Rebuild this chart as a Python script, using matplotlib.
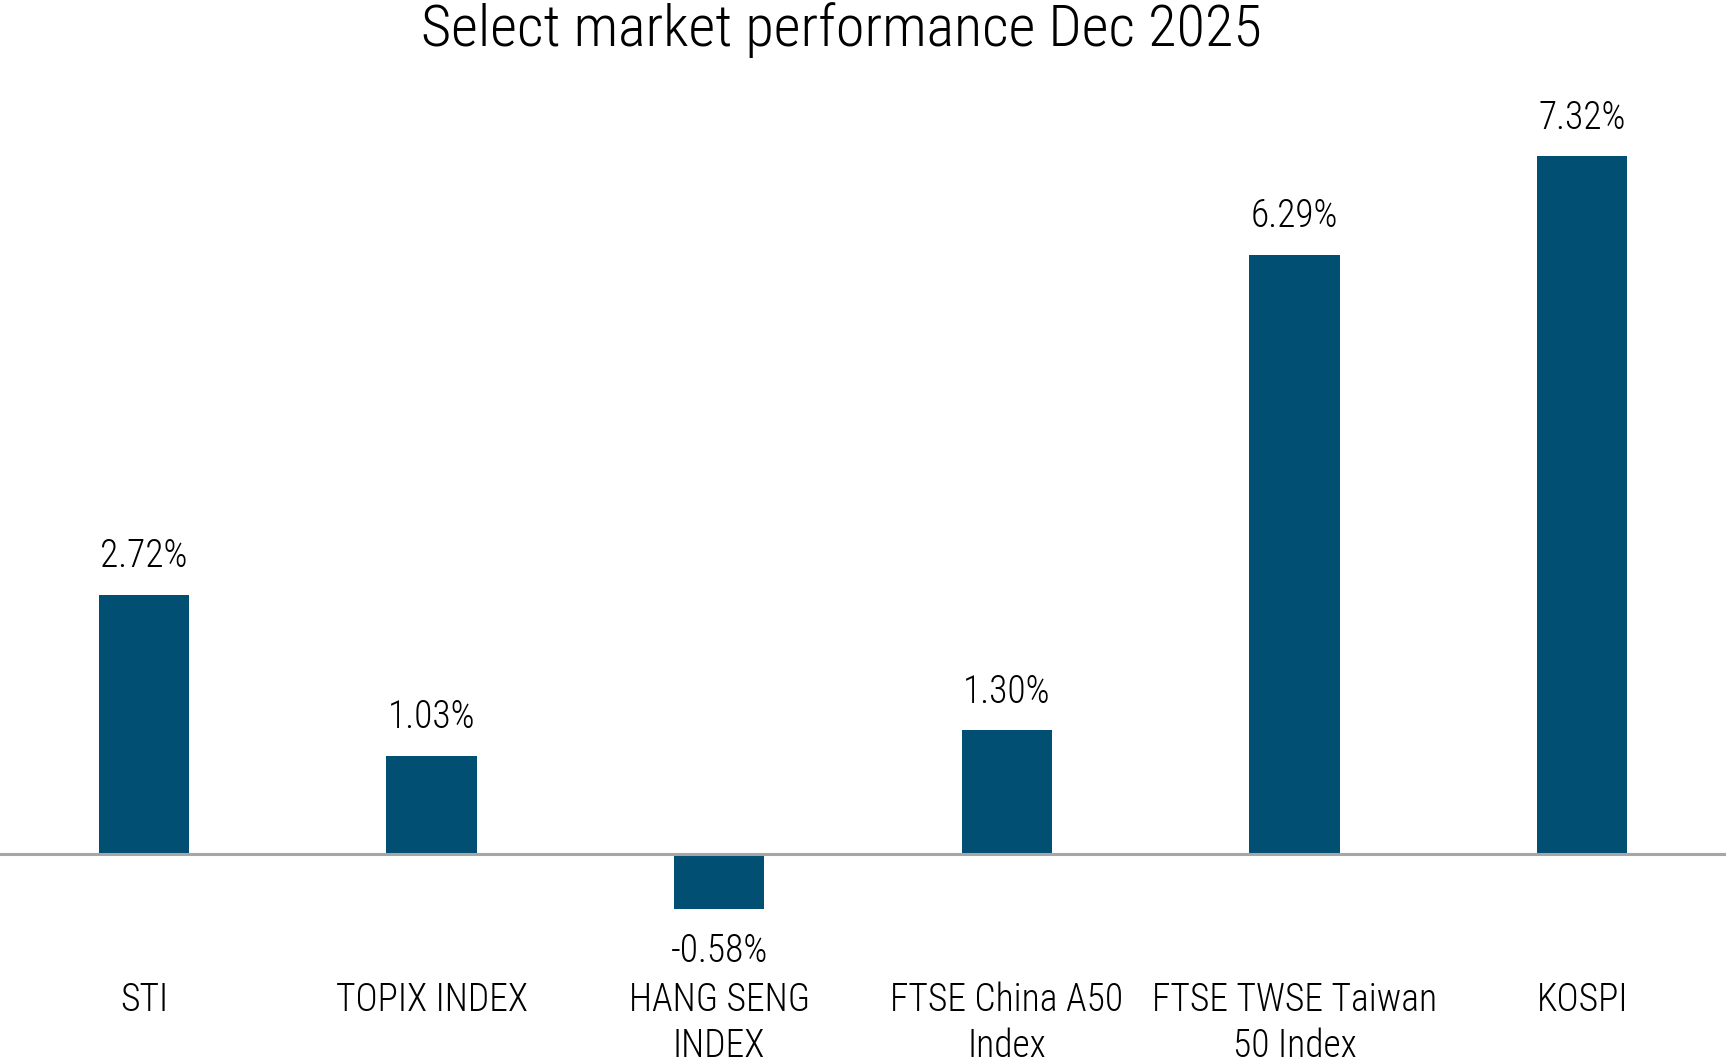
import matplotlib
matplotlib.use('Agg')
import matplotlib.pyplot as plt

categories = ['STI', 'TOPIX INDEX', 'HANG SENG\nINDEX', 'FTSE China A50\nIndex',
              'FTSE TWSE Taiwan\n50 Index', 'KOSPI']
values = [2.72, 1.03, -0.58, 1.30, 6.29, 7.32]
title = 'Select market performance Dec 2025'

bar_color = '#014F72'
plt.rcParams['font.family'] = ['Roboto Condensed', 'Lato', 'DejaVu Sans']
plt.rcParams['font.weight'] = 'light'

fig = plt.figure(figsize=(17.26, 10.62), dpi=100)
# zero line sits ~854 px from top, ~95.3 px per percentage point
ax = fig.add_axes([0.0, 112.7 / 1062, 1.0, 857.7 / 1062])

x = list(range(len(categories)))
ax.bar(x, values, width=0.314, color=bar_color, zorder=2)
ax.set_xlim(-0.5, len(categories) - 0.5)
ax.set_ylim(-1, 8)
ax.axhline(0, color='#A6A6A6', lw=2.2, zorder=3)

for xi, v in zip(x, values):
    if v >= 0:
        ax.annotate('{:.2f}%'.format(v), (xi, v), xytext=(0, 14), textcoords='offset points',
                    ha='center', va='bottom', fontsize=27)
    else:
        ax.annotate('{:.2f}%'.format(v), (xi, v), xytext=(0, -17), textcoords='offset points',
                    ha='center', va='top', fontsize=27)

ax.set_xticks(x)
ax.set_xticklabels(categories, fontsize=27, linespacing=1.3)
ax.tick_params(axis='x', length=0, pad=23)
ax.set_yticks([])
for s in ax.spines.values():
    s.set_visible(False)

fig.text(0.4875, 1 - 30 / 1062, title, ha='center', va='center', fontsize=42)

fig.savefig('out.png', dpi=100)
